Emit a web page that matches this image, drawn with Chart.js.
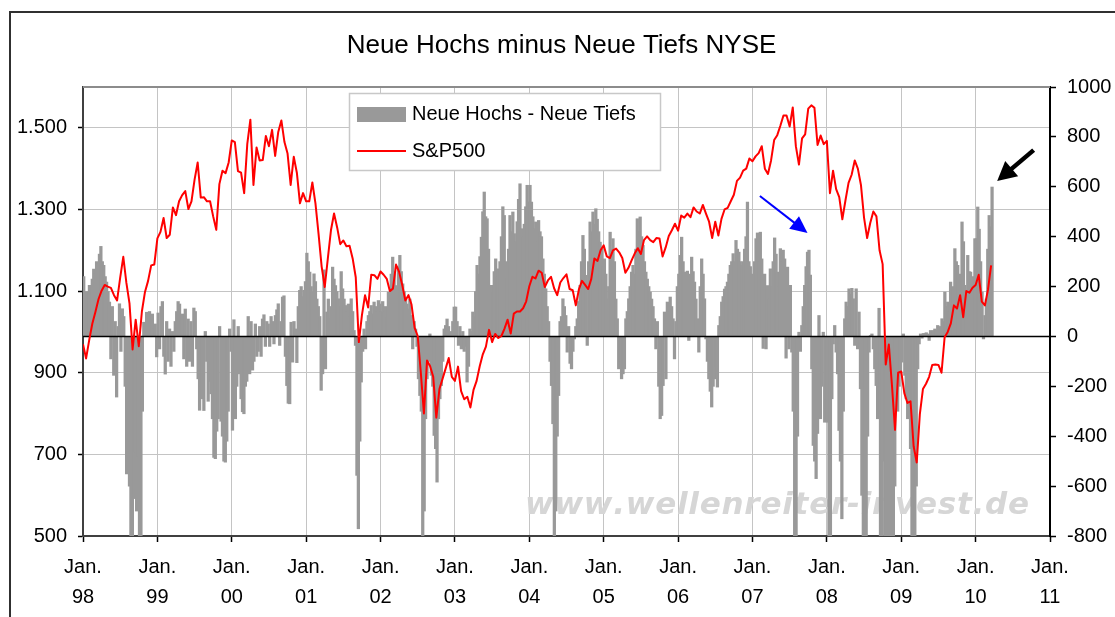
<!DOCTYPE html>
<html><head><meta charset="utf-8">
<script src="https://cdn.jsdelivr.net/npm/chart.js@4/dist/chart.umd.min.js"></script>
<style>html,body{margin:0;padding:0;background:#fff;overflow:hidden}canvas{display:block}</style>
</head><body>
<canvas id="c" width="1115" height="617" style="width:1115px;height:617px"></canvas>
<script>
// ---- texts ----
const chartTitle = 'Neue Hochs minus Neue Tiefs NYSE';
const barLabel = 'Neue Hochs - Neue Tiefs';
const lineLabel = 'S&P500';
const watermarkText = 'www.wellenreiter-invest.de';

// ---- axes / ticks ----
const xTickMonth = 'Jan.';
const xTickYearLabels = ['98','99','00','01','02','03','04','05','06','07','08','09','10','11'];
const xMin = 1998, xMax = 2011;
const leftTicks = [500, 700, 900, 1100, 1300, 1500];
const leftTickLabels = ['500', '700', '900', '1.100', '1.300', '1.500'];
const leftMin = 500, leftMax = 1600;
const rightMin = -800, rightMax = 1000, rightStep = 200;

const years = [1998,1999,2000,2001,2002,2003,2004,2005,2006,2007,2008,2009,2010];

// ---- S&P500, values on the 1st and 16th of each month ----
const spx1998 = [970,935,980,1020,1049,1080,1101,1115,1111,1108,1090,1077,1133,1184,1120,1070,957,1030,965,1050,1098,1125,1163,1165];
const spx1999 = [1229,1245,1279,1230,1238,1305,1286,1320,1335,1345,1301,1320,1373,1415,1329,1330,1320,1320,1283,1250,1362,1395,1389,1415];
const spx2000 = [1469,1465,1394,1390,1340,1460,1520,1360,1452,1420,1421,1480,1455,1495,1431,1490,1518,1465,1437,1360,1429,1390,1315,1340];
const spx2001 = [1320,1320,1366,1315,1240,1160,1110,1180,1249,1290,1256,1215,1224,1210,1211,1180,1134,975,1041,1090,1060,1140,1139,1130];
const spx2002 = [1148,1140,1130,1100,1106,1165,1147,1115,1077,1090,1067,1010,990,900,800,930,916,890,790,860,885,910,936,890];
const spx2003 = [880,915,855,835,841,815,858,880,916,945,964,1005,975,995,985,990,1008,1030,996,1045,1050,1050,1058,1075];
const spx2004 = [1112,1135,1131,1150,1145,1110,1126,1135,1107,1090,1121,1132,1141,1105,1102,1065,1104,1125,1115,1105,1130,1180,1174,1200];
const spx2005 = [1212,1185,1181,1200,1204,1195,1181,1145,1157,1175,1192,1205,1191,1225,1234,1225,1220,1230,1229,1185,1207,1235,1249,1265];
const spx2006 = [1248,1285,1280,1290,1281,1305,1295,1290,1311,1290,1270,1230,1270,1236,1277,1300,1304,1320,1336,1370,1378,1395,1400,1425];
const spx2007 = [1418,1430,1438,1455,1400,1387,1420,1470,1482,1505,1530,1530,1503,1550,1455,1410,1474,1484,1547,1555,1549,1458,1481,1460];
const spx2008 = [1468,1340,1395,1350,1330,1276,1322,1365,1385,1420,1400,1360,1280,1230,1267,1295,1283,1200,1166,920,969,870,760,900];
const spx2009 = [903,850,826,830,720,680,798,860,873,890,919,920,919,900,987,1000,1021,1065,1057,1090,1036,1100,1096,1108];
const spx2010 = [1115,1140,1074,1065,1104,1163];

// ---- New highs minus new lows, weekly ----
const nhnl1998 = [240,150,180,150,205,180,230,270,250,300,290,330,361,300,285,240,218,180,138,-90,120,-156,60,-243,40,131,-60,111,80,-200,-551,-450,-600,-800,-800,-650,-464,-700,-480,-800,-800,-300,57,40,97,80,100,60,90,30,50,-82];
const nhnl1999 = [94,-50,120,140,-80,-151,60,-100,30,-120,20,-60,60,100,140,130,60,90,-90,110,-120,70,-100,60,-120,114,100,-50,-170,-296,-200,-250,-297,20,-100,-260,-180,-230,-330,-485,-490,-380,-330,40,-340,-400,-500,-504,-420,-300,30,-60];
const nhnl2000 = [-376,67,-330,-200,40,-150,-250,-302,-310,-200,-180,80,-150,60,-135,-100,50,-80,-60,40,-80,70,87,-40,60,50,-40,80,60,-30,84,107,131,-36,60,158,163,-80,-197,-268,-270,57,-103,60,30,-105,120,185,200,160,185,220];
const nhnl2001 = [334,300,258,200,178,251,220,150,120,80,-216,-150,267,-130,98,150,71,120,278,230,204,180,151,120,260,191,150,124,100,130,80,151,100,24,-36,-557,-771,-420,-183,-60,30,-50,60,84,100,124,90,138,120,100,144,130];
const nhnl2002 = [100,140,98,120,80,178,150,250,318,260,204,180,280,325,260,211,180,150,130,110,150,84,-50,60,30,-40,-170,-237,-300,-800,-700,-330,-170,-100,10,-156,-200,-397,-450,-584,-330,-250,-197,-100,30,44,70,40,10,20,60,118];
const nhnl2003 = [118,60,-36,40,-50,20,-60,-40,-183,-120,30,20,98,80,180,285,250,320,398,500,579,480,472,350,151,205,180,260,311,240,271,300,400,520,485,300,230,350,485,420,499,412,380,460,550,612,432,400,450,520,606,540];
const nhnl2004 = [606,539,480,432,459,380,465,420,400,311,250,191,120,60,-100,-197,-350,-800,-700,-400,-237,60,80,151,120,84,-63,40,-108,-130,-60,-10,40,71,140,205,300,405,350,245,-36,300,459,420,499,450,512,470,420,378,350,280];
const nhnl2005 = [311,250,151,200,418,350,392,300,150,71,-130,-100,-170,-150,-130,71,100,151,200,258,285,250,350,472,420,479,400,365,300,258,230,200,178,150,120,71,-50,60,-200,-330,-317,-197,98,-170,138,100,158,120,71,-90,60,200];
const nhnl2006 = [250,325,398,300,258,200,262,-16,250,318,260,218,150,71,-63,200,311,250,151,-10,-100,-170,-220,-283,-200,-170,-120,-203,44,80,138,160,190,200,218,250,285,300,332,300,385,350,338,300,285,300,350,400,539,300,280,250];
const nhnl2007 = [205,300,392,415,300,418,311,-48,250,-50,204,150,271,200,300,395,330,258,200,352,300,346,311,-87,278,-50,205,-63,-300,-800,-800,-400,17,-60,44,120,205,280,338,346,246,-130,-437,-500,-570,-389,84,-330,-200,17,-344,-250];
const nhnl2008 = [-344,-800,-800,-250,-30,44,-63,-150,-377,-500,-731,-300,71,138,120,191,170,193,151,-36,191,-50,98,-210,-637,-800,-800,-800,-400,-63,4,10,-50,-130,-197,-330,113,-800,-800,-500,-800,-800,-800,-650,-800,-800,-800,-600,-250,-300,-200,-150];
const nhnl2009 = [-103,10,-156,-250,-330,-200,-450,-800,-800,-800,-600,-130,-30,10,-7,12,10,15,10,-16,24,15,24,30,25,44,35,40,71,60,178,120,138,100,218,160,200,352,300,285,230,250,459,380,205,180,325,260,258,200,240,392];
const nhnl2010 = [392,519,430,300,178,-10,84,150,350,485,440,599];

// ---- annotation arrows (x in years, y in right-axis units) ----
const arrowBlueFrom = [2007.10, 563], arrowBlueTo = [2007.74, 415];
const arrowBlackFrom = [2010.78, 747], arrowBlackTo = [2010.29, 623];

// ---- build library data from the arrays ----
const spxYears = [spx1998,spx1999,spx2000,spx2001,spx2002,spx2003,spx2004,spx2005,spx2006,spx2007,spx2008,spx2009,spx2010];
const nhnlYears = [nhnl1998,nhnl1999,nhnl2000,nhnl2001,nhnl2002,nhnl2003,nhnl2004,nhnl2005,nhnl2006,nhnl2007,nhnl2008,nhnl2009,nhnl2010];
const spxPoints = [];
spxYears.forEach((arr, k) => arr.forEach((v, i) => spxPoints.push({x: years[k] + i / 24, y: v})));
const nhnlPoints = [];
nhnlYears.forEach((arr, k) => arr.forEach((v, i) => nhnlPoints.push({x: years[k] + (i + 0.5) / 52, y: v})));

const FONT = '"Liberation Sans", Arial, sans-serif';
const BAR_COLOR = '#999999';
const LINE_COLOR = '#ff0000';

function drawArrow(ctx, x0, y0, x1, y1, color, width, headLen, headHalf) {
  const a = Math.atan2(y1 - y0, x1 - x0);
  const bx = x1 - headLen * Math.cos(a), by = y1 - headLen * Math.sin(a);
  ctx.save();
  ctx.strokeStyle = color; ctx.lineWidth = width; ctx.lineCap = 'butt';
  ctx.beginPath(); ctx.moveTo(x0, y0); ctx.lineTo(bx + Math.cos(a), by + Math.sin(a)); ctx.stroke();
  ctx.fillStyle = color;
  ctx.beginPath(); ctx.moveTo(x1, y1);
  ctx.lineTo(bx + headHalf * Math.sin(a), by - headHalf * Math.cos(a));
  ctx.lineTo(bx - headHalf * Math.sin(a), by + headHalf * Math.cos(a));
  ctx.closePath(); ctx.fill();
  ctx.restore();
}

const decorPlugin = {
  id: 'decor',
  beforeDraw(chart) {
    const ctx = chart.ctx;
    ctx.save();
    ctx.fillStyle = '#fff';
    ctx.fillRect(0, 0, chart.width, chart.height);
    ctx.restore();
  },
  beforeDatasetsDraw(chart) {
    const ctx = chart.ctx;
    ctx.save();
    ctx.font = 'italic bold 31px "DejaVu Sans", sans-serif';
    ctx.fillStyle = '#d6d6d6';
    ctx.textBaseline = 'alphabetic';
    const chars = watermarkText.split('');
    const widths = chars.map(c => ctx.measureText(c).width);
    const natural = widths.reduce((a, b) => a + b, 0);
    const target = 504;
    const gap = (target - natural) / (chars.length - 1);
    let x = 525;
    chars.forEach((c, i) => { ctx.fillText(c, x, 514); x += widths[i] + gap; });
    ctx.restore();
  },
  afterDatasetDraw(chart, args) {
    if (args.index !== 1) return;
    const ctx = chart.ctx, ca = chart.chartArea;
    const y0 = chart.scales.yR.getPixelForValue(0);
    ctx.save();
    ctx.strokeStyle = '#000'; ctx.lineWidth = 1.5;
    ctx.beginPath(); ctx.moveTo(ca.left, y0); ctx.lineTo(ca.right, y0); ctx.stroke();
    ctx.restore();
  },
  afterDatasetsDraw(chart) {
    const ctx = chart.ctx;
    const xs = chart.scales.x, yr = chart.scales.yR;
    ctx.save();
    ctx.fillStyle = '#fff';
    ctx.fillRect(349, 93, 312, 78);
    ctx.strokeStyle = '#c8c8c8'; ctx.lineWidth = 1.5;
    ctx.strokeRect(349.5, 93.5, 311, 77);
    ctx.fillStyle = BAR_COLOR;
    ctx.fillRect(357, 107, 49, 15);
    ctx.strokeStyle = LINE_COLOR; ctx.lineWidth = 2;
    ctx.beginPath(); ctx.moveTo(357, 151); ctx.lineTo(406, 151); ctx.stroke();
    ctx.fillStyle = '#000';
    ctx.font = '20px ' + FONT;
    ctx.textBaseline = 'middle'; ctx.textAlign = 'left';
    ctx.fillText(barLabel, 412, 114);
    ctx.fillText(lineLabel, 412, 151);
    ctx.restore();
    drawArrow(ctx, xs.getPixelForValue(arrowBlueFrom[0]), yr.getPixelForValue(arrowBlueFrom[1]),
      xs.getPixelForValue(arrowBlueTo[0]), yr.getPixelForValue(arrowBlueTo[1]), '#0000ff', 2, 17, 8);
    drawArrow(ctx, xs.getPixelForValue(arrowBlackFrom[0]), yr.getPixelForValue(arrowBlackFrom[1]),
      xs.getPixelForValue(arrowBlackTo[0]), yr.getPixelForValue(arrowBlackTo[1]), '#000000', 4.5, 19, 10);
  },
  afterDraw(chart) {
    const ctx = chart.ctx, ca = chart.chartArea;
    ctx.save();
    ctx.strokeStyle = '#8c8c8c'; ctx.lineWidth = 2;
    ctx.beginPath(); ctx.moveTo(ca.left, ca.top); ctx.lineTo(ca.right, ca.top); ctx.stroke();
    ctx.strokeStyle = '#303030'; ctx.lineWidth = 2;
    ctx.beginPath(); ctx.moveTo(10, chart.height + 2); ctx.lineTo(10, 12); ctx.lineTo(chart.width + 2, 12); ctx.stroke();
    ctx.fillStyle = '#000';
    ctx.font = '26px ' + FONT;
    ctx.textAlign = 'center'; ctx.textBaseline = 'alphabetic';
    ctx.fillText(chartTitle, 561.5, 52.5);
    ctx.restore();
  }
};

const tickFont = {family: FONT, size: 20, lineHeight: 1.5};

new Chart(document.getElementById('c'), {
  data: {
    datasets: [
      {
        type: 'line', label: lineLabel, data: spxPoints, xAxisID: 'x', yAxisID: 'yL',
        borderColor: LINE_COLOR, borderWidth: 2, pointRadius: 0, tension: 0,
        borderJoinStyle: 'round', order: 0
      },
      {
        type: 'bar', label: barLabel, data: nhnlPoints, xAxisID: 'x', yAxisID: 'yR',
        backgroundColor: BAR_COLOR, borderWidth: 0, barThickness: 2.6, grouped: false, order: 1
      }
    ]
  },
  options: {
    responsive: false, animation: false, devicePixelRatio: 1,
    layout: {padding: {top: 87, left: 0, right: 0, bottom: 0}},
    plugins: {legend: {display: false}, title: {display: false}, tooltip: {enabled: false}},
    scales: {
      x: {
        type: 'linear', position: 'bottom', min: xMin, max: xMax, offset: false,
        afterFit(s) { s.height = 81; },
        ticks: {
          stepSize: 1, autoSkip: false, maxRotation: 0, minRotation: 0, padding: 10,
          color: '#000', font: tickFont,
          callback: (v, i) => [xTickMonth, xTickYearLabels[i]]
        },
        grid: {color: '#c4c4c4', lineWidth: 1, offset: false, drawTicks: true, tickLength: 6, tickColor: '#000', tickWidth: 1.5},
        border: {display: true, color: '#404040', width: 2}
      },
      yL: {
        type: 'linear', position: 'left', min: leftMin, max: leftMax,
        afterFit(s) { s.width = 83; },
        afterBuildTicks(s) { s.ticks = leftTicks.map(v => ({value: v})); },
        ticks: {
          padding: 11, color: '#000', font: tickFont,
          callback: (v) => leftTickLabels[leftTicks.indexOf(v)]
        },
        grid: {color: '#c4c4c4', lineWidth: 1, drawTicks: true, tickLength: 5, tickColor: '#000', tickWidth: 1.5},
        border: {display: true, color: '#404040', width: 2}
      },
      yR: {
        type: 'linear', position: 'right', min: rightMin, max: rightMax,
        afterFit(s) { s.width = 65; },
        ticks: {stepSize: rightStep, padding: 11, color: '#000', font: tickFont, callback: (v) => String(v)},
        grid: {drawOnChartArea: false, drawTicks: true, tickLength: 6, tickColor: '#000', tickWidth: 1.5},
        border: {display: true, color: '#000', width: 2}
      }
    }
  },
  plugins: [decorPlugin]
});
</script>
</body></html>
